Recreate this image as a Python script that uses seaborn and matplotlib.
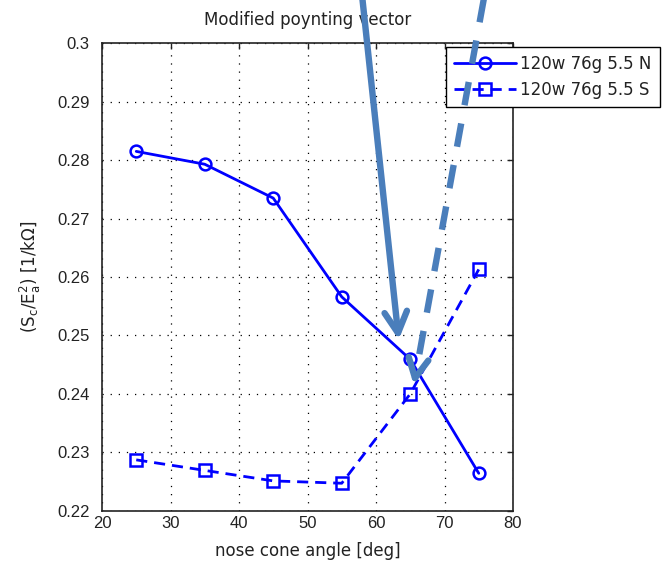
import numpy as np
import pandas as pd
import matplotlib
matplotlib.use("Agg")
import matplotlib.pyplot as plt
import seaborn as sns

# ---- data ----
angles = [25, 35, 45, 55, 65, 75]
series_n = [0.2815, 0.2793, 0.2735, 0.2566, 0.2459, 0.2264]
series_s = [0.2287, 0.2269, 0.2251, 0.2247, 0.2400, 0.2613]
label_n = "120w 76g 5.5 N"
label_s = "120w 76g 5.5 S"
x_ticks = [20, 30, 40, 50, 60, 70, 80]
y_ticks = [0.22, 0.23, 0.24, 0.25, 0.26, 0.27, 0.28, 0.29, 0.30]
title = "Modified poynting vector"
x_label = "nose cone angle [deg]"
y_label = r"($\mathregular{S_c/E_a^2}$) [1/kΩ]"

sns.set_style("white")
plt.rcParams["font.family"] = ["DejaVu Sans"]
plt.rcParams["mathtext.fontset"] = "dejavusans"

W, H = 669, 567
fig = plt.figure(figsize=(W / 100, H / 100), dpi=100)
fig.patch.set_facecolor("white")
ax = fig.add_axes([102 / W, 1 - 510.7 / H, 411 / W, 467.4 / H])

df = pd.DataFrame({
    "angle": angles * 2,
    "value": series_n + series_s,
    "series": [label_n] * len(angles) + [label_s] * len(angles),
})
blue = "#0000FF"
sns.lineplot(
    data=df, x="angle", y="value", hue="series", style="series",
    hue_order=[label_n, label_s], style_order=[label_n, label_s],
    palette={label_n: blue, label_s: blue},
    markers={label_n: "o", label_s: "s"},
    dashes={label_n: "", label_s: (4, 2.5)},
    markerfacecolor="none", markeredgecolor=blue, markeredgewidth=1.8,
    markersize=8.5, linewidth=2.0, legend=False, ax=ax,
)

ax.set_xlim(20, 80)
ax.set_ylim(0.22, 0.30)
ax.set_xticks(x_ticks)
ax.set_yticks(y_ticks)
ax.set_xticklabels([f"{v:g}" for v in x_ticks], family="Liberation Sans")
ax.set_yticklabels([f"{v:g}" for v in y_ticks], family="Liberation Sans")
ax.tick_params(direction="in", length=4, width=1, top=True, right=True,
               labelsize=12, colors="#222222")
ax.tick_params(axis="y", pad=9)
ax.tick_params(axis="x", pad=4)
ax.grid(True, color="black", linewidth=0.9, linestyle=(0, (1, 5.5)))
ax.set_axisbelow(True)
for s in ax.spines.values():
    s.set_color("#222222")
    s.set_linewidth(1.2)

ax.set_title(title, fontsize=12, pad=13, color="#222222")
ax.set_xlabel(x_label, fontsize=12, labelpad=8, color="#222222")
ax.set_ylabel(y_label, fontsize=12, labelpad=10, color="#222222")

handles = ax.get_lines()[:2]
leg = ax.legend(handles, [label_n, label_s], loc="upper left",
                bbox_to_anchor=(446 / W, 1 - 47 / H), bbox_transform=fig.transFigure,
                fontsize=12, frameon=True, fancybox=False, framealpha=1,
                edgecolor="black", handlelength=3.7, handletextpad=0.25,
                borderpad=0.5, labelspacing=0.45, borderaxespad=0, numpoints=1)
leg.get_frame().set_linewidth(1.0)
for t in leg.get_texts():
    t.set_color("#222222")

# ---- overlay arrows (annotations in figure pixel space) ----
ov = fig.add_axes([0, 0, 1, 1])
ov.set_xlim(0, W)
ov.set_ylim(H, 0)
ov.axis("off")
ov.patch.set_alpha(0)
acol = "#4A7EBB"


def arrow(start, tip, dashed, arm_len=24, arm_deg=28):
    start = np.array(start, float)
    tip = np.array(tip, float)
    u = (start - tip) / np.linalg.norm(start - tip)
    ls = (0, (3.7, 2.9)) if dashed else "-"
    ov.plot([start[0], tip[0]], [start[1], tip[1]], color=acol, lw=4.6,
            linestyle=ls, solid_capstyle="butt", dash_capstyle="butt")
    for sgn in (1, -1):
        a = np.deg2rad(sgn * arm_deg)
        r = np.array([[np.cos(a), -np.sin(a)], [np.sin(a), np.cos(a)]])
        p = tip + arm_len * (r @ u)
        ov.plot([p[0], tip[0]], [p[1], tip[1]], color=acol, lw=4.6,
                solid_capstyle="round")


arrow((362, -5), (398, 333), dashed=False)
arrow((484, -2), (415, 378), dashed=True, arm_len=22, arm_deg=27)

fig.savefig("out.png", dpi=100)
